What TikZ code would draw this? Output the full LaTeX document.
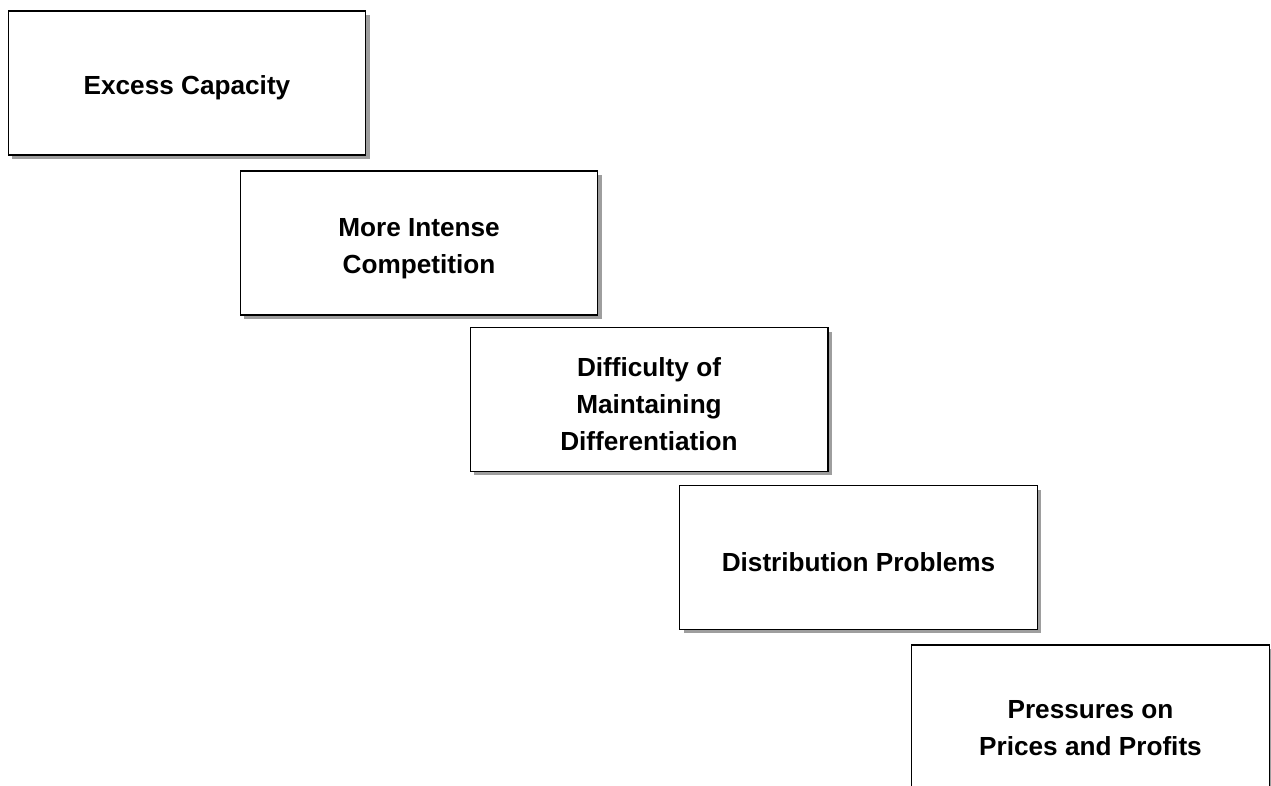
\documentclass[tikz,border=0pt]{standalone}
\usepackage{fontspec}
\setmainfont{Liberation Sans}
\usepackage{tikz}
\usetikzlibrary{positioning,shadows}

\newcommand{\topgap}{\rule{0pt}{16.5pt}}

\begin{document}
\begin{tikzpicture}[x=0.02cm,y=-0.02cm]
	\tikzset{
		stepbox/.style={draw=black,line width=0.6pt,fill=white,rectangle,
			minimum width=7.16cm,minimum height=2.88cm,align=center,
			font=\fontsize{14.9}{21}\selectfont\bfseries,
			drop shadow={shadow xshift=0.08cm,shadow yshift=-0.08cm,fill=black!38,opacity=1}},
	}
	\useasboundingbox (0,0) rectangle (1271,785);
	\clip (0,0) rectangle (1271,785);
	\node[stepbox] (excess) at (187,83) {\topgap Excess Capacity};
	\node[stepbox] (compete) at (419,243) {\topgap More Intense\\Competition};
	\node[stepbox] (differ) at (649,399.5) {\topgap Difficulty of\\Maintaining\\Differentiation};
	\node[stepbox] (distrib) at (858.5,557.5) {\topgap Distribution Problems};
	% last box runs off the page
	\node[stepbox,minimum height=3.1cm] (pressure) at (1090.5,722.5) {\topgap Pressures on\\Prices and Profits};
\end{tikzpicture}
\end{document}
